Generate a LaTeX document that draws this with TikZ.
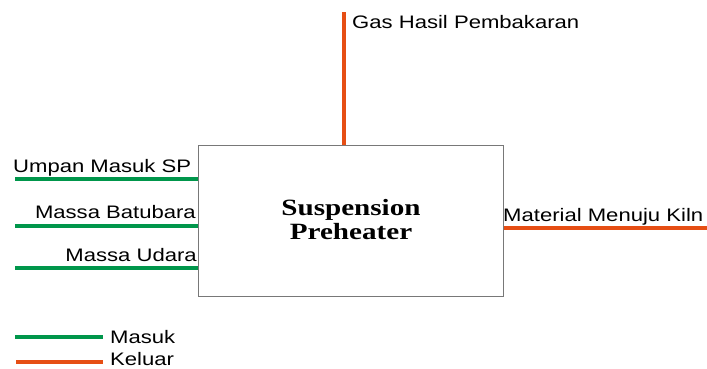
\documentclass[tikz,border=0pt]{standalone}
\usepackage{fontspec}
\setmainfont{Liberation Sans}[FakeStretch=1.22]
\newfontfamily\titlefont{Liberation Serif}[FakeStretch=1.25]
\usetikzlibrary{positioning}

\definecolor{masuk}{RGB}{0,150,75}
\definecolor{keluar}{RGB}{230,78,20}
\definecolor{boxgray}{RGB}{120,120,120}

\begin{document}
\begin{tikzpicture}[x=1pt, y=-1pt,
  lbl/.style={inner sep=0pt, font=\fontsize{18.1}{19}\selectfont},
  inflow/.style={masuk, line width=4pt},
  outflow/.style={keluar, line width=4.5pt}]
\useasboundingbox (0,0) rectangle (707,368);

% unit
\node[draw=boxgray, line width=1pt, minimum width=305pt, minimum height=151pt, inner sep=0pt] (sp) at (350.5,220.5) {};
\node[align=center, font=\titlefont\fontsize{23.3}{24}\selectfont\bfseries] (title) at (351,220) {Suspension\\Preheater};

% inputs
\coordinate (umpanL) at (15,179);
\coordinate (batuL) at (15,226);
\coordinate (udaraL) at (15,268);
\draw[inflow] (umpanL) -- (umpanL -| sp.west);
\draw[inflow] (batuL) -- (batuL -| sp.west);
\draw[inflow] (udaraL) -- (udaraL -| sp.west);
\node[lbl, anchor=base west] (umpan) at (13,172) {Umpan Masuk SP};
\node[lbl, anchor=base east] (batu) at (196,218.5) {Massa Batubara};
\node[lbl, anchor=base east] (udara) at (197,261) {Massa Udara};

% outputs
\coordinate (gasT) at (344,12);
\coordinate (kilnR) at (707,228);
\draw[outflow] (gasT) -- (gasT |- sp.north);
\draw[outflow] (sp.east |- kilnR) -- (kilnR);
\node[lbl, anchor=base west] (gas) at (352,28) {Gas Hasil Pembakaran};
\node[lbl, anchor=base west] (kiln) at (503,221) {Material Menuju Kiln};

% legend
\coordinate (lgA) at (15,337);
\coordinate (lgB) at (103,337);
\coordinate (lgC) at (16,362);
\coordinate (lgD) at (103,362);
\draw[inflow] (lgA) -- (lgB);
\draw[outflow] (lgC) -- (lgD);
\node[lbl, anchor=base west] (masukTxt) at (110,343) {Masuk};
\node[lbl, anchor=base west] (keluarTxt) at (110,365.5) {Keluar};
\end{tikzpicture}
\end{document}
